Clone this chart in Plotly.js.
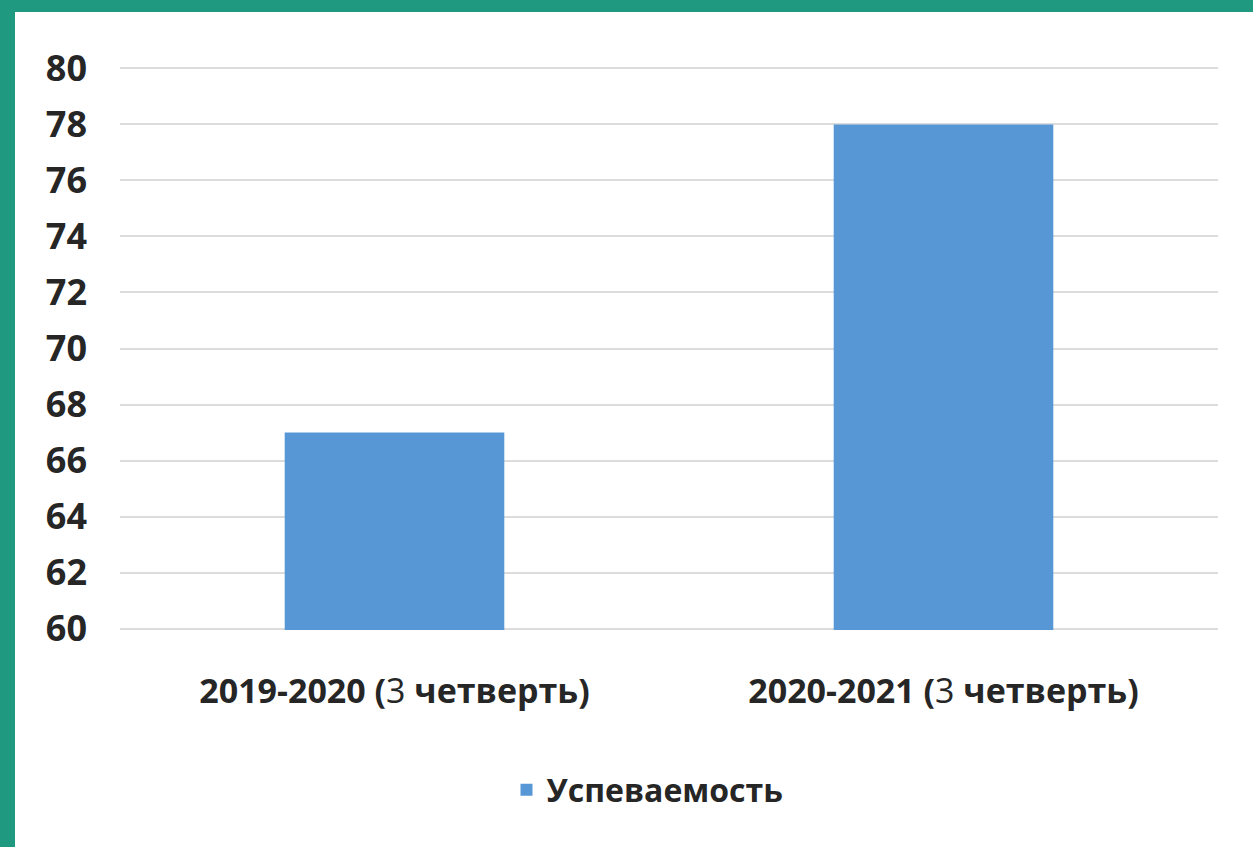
<!DOCTYPE html>
<html>
<head>
<meta charset="utf-8">
<script src="https://cdn.plot.ly/plotly-3.0.1.min.js"></script>
<style>
  html, body { margin: 0; padding: 0; background: #1f9a80; width: 1253px; height: 847px; overflow: hidden; }
  #chart { position: absolute; left: 15px; top: 12px; width: 1238px; height: 835px; background: #ffffff; }
</style>
</head>
<body>
<div id="chart"></div>
<script>
const categories = [
  "2019-2020 (<span style='font-weight:normal'>3</span> четверть)",
  "2020-2021 (<span style='font-weight:normal'>3</span> четверть)"
];
const seriesName = "Успеваемость";
const values = [67, 78];
const yTicks = [60, 62, 64, 66, 68, 70, 72, 74, 76, 78, 80];

const FONT = "'Open Sans', 'Liberation Sans', sans-serif";

const trace = {
  type: 'bar',
  x: categories,
  y: values,
  name: seriesName,
  marker: { color: '#5797d6', line: { width: 0 } },
  width: 0.4,
  hoverinfo: 'skip'
};

const layout = {
  width: 1238,
  height: 835,
  paper_bgcolor: '#ffffff',
  plot_bgcolor: '#ffffff',
  margin: { l: 105, r: 35, t: 55, b: 217 },
  font: { family: FONT, color: '#262626' },
  showlegend: true,
  legend: {
    orientation: 'h',
    x: 0.352, xanchor: 'left',
    y: -0.284, yanchor: 'middle',
    font: { family: FONT, size: 32, color: '#262626', weight: 'bold' },
    itemwidth: 30
  },
  xaxis: {
    type: 'category',
    showgrid: false,
    showline: false,
    zeroline: false,
    ticks: '',
    tickfont: { family: FONT, size: 34, color: '#262626', weight: 'bold' },
    ticklabelstandoff: 38
  },
  yaxis: {
    range: [59.95, 80.05],
    tickvals: yTicks,
    ticktext: yTicks.map(String),
    showgrid: true,
    gridcolor: '#dcdcdc',
    gridwidth: 2,
    zeroline: false,
    showline: false,
    ticks: '',
    tickfont: { family: FONT, size: 36, color: '#262626', weight: 'bold' },
    ticklabelstandoff: 32
  },
  bargap: 0.6
};

Plotly.newPlot('chart', [trace], layout, { displayModeBar: false, staticPlot: true });
</script>
</body>
</html>
